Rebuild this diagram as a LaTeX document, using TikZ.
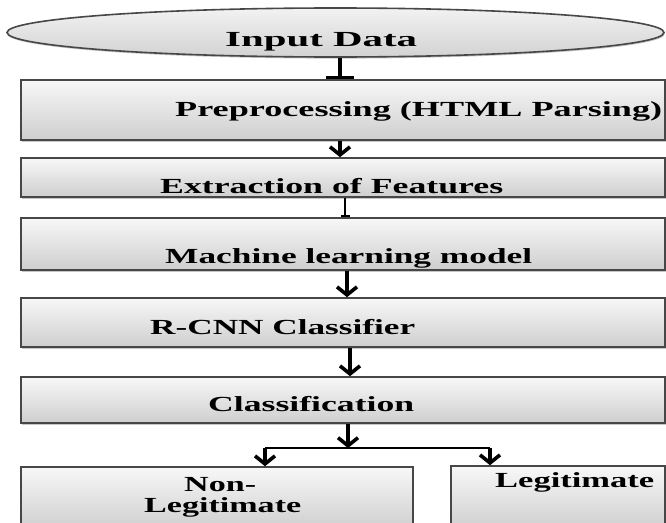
\documentclass[tikz,border=0pt]{standalone}
\usepackage{fontspec}
\setmainfont{Liberation Serif}
\usepackage{graphicx}
\usetikzlibrary{arrows.meta,shapes.geometric,shadows}
\begin{document}
\begin{tikzpicture}[x=1pt,y=-1pt,
  box/.style={draw=black!72, line width=1.6pt, top color=gray!6, bottom color=gray!38, inner sep=0pt,
    drop shadow={shadow xshift=0.8pt, shadow yshift=-1.6pt, fill=gray!55, opacity=0.8}},
  lbl/.style={inner sep=0pt, anchor=base west, font=\fontsize{21.5}{24}\selectfont\bfseries},
  conn/.style={draw=black, line width=3.8pt},
  thin/.style={draw=black, line width=2pt},
  tip/.style={-{Straight Barb[length=8pt,width=20pt,line width=3.6pt]}},
  bar/.style={-{Bar[width=28pt,line width=3.4pt]}},
  smallbar/.style={-{Bar[width=9pt,line width=2.4pt]}},
]
\useasboundingbox (0,0) rectangle (666,522);

% shapes
\node[box, ellipse, top color=gray!10, bottom color=gray!35, minimum width=657pt, minimum height=49pt] (ell) at (335.5,32.5) {};
\node[box, minimum width=644pt, minimum height=60pt] (pre) at (343,110) {};
\node[box, minimum width=644pt, minimum height=39pt] (ext) at (343,177.5) {};
\node[box, minimum width=644pt, minimum height=52pt] (ml) at (343,244) {};
\node[box, minimum width=644pt, minimum height=49pt] (rcnn) at (343,322.5) {};
\node[box, minimum width=644pt, minimum height=46pt] (cls) at (343,400) {};
\node[box, minimum width=392pt, minimum height=63pt] (nl) at (217,498.5) {};
\node[box, minimum width=214pt, minimum height=64pt] (lg) at (558,498) {};

% texts
\node[lbl] (tin) at (225,46) {\resizebox{192pt}{\height}{Input Data}};
\node[lbl] (tpre) at (175,116) {\resizebox{487pt}{\height}{Preprocessing (HTML Parsing)}};
\node[lbl] (text) at (160,193.5) {\resizebox{343pt}{\height}{Extraction of Features}};
\node[lbl] (tml) at (165,263) {\resizebox{367pt}{\height}{Machine learning model}};
\node[lbl] (trc) at (150,334) {\resizebox{265pt}{\height}{R-CNN Classifier}};
\node[lbl] (tcl) at (208,411) {\resizebox{206pt}{\height}{Classification}};
\node[lbl] (tnl1) at (184,491) {\resizebox{72pt}{\height}{Non-}};
\node[lbl] (tnl2) at (144,512) {\resizebox{157pt}{\height}{Legitimate}};
\node[lbl] (tlg) at (495,487) {\resizebox{159pt}{\height}{Legitimate}};

% connectors
\coordinate (j) at (348,448);
\coordinate (jl) at (265,448);
\coordinate (jr) at (490,448);

\draw[conn,bar] ([xshift=4.5pt]ell.south) -- ([xshift=-3pt]pre.north);
\draw[conn,tip] ([xshift=-3pt]pre.south) -- ([xshift=-3pt]ext.north);
\draw[thin,smallbar] ([xshift=2pt]ext.south) -- ([xshift=2pt]ml.north);
\draw[conn,tip] ([xshift=4pt]ml.south) -- ([xshift=4pt]rcnn.north);
\draw[conn,tip] ([xshift=7pt]rcnn.south) -- ([xshift=7pt]cls.north);
\draw[conn,tip] (cls.south -| j) -- (j);
\draw[thin,line width=2.4pt] (jl) -- (jr);
\draw[conn,tip,line width=3.4pt] (jl) -- (jl |- nl.north);
\draw[conn,tip,line width=3.4pt] (jr) -- (jr |- lg.north);
\end{tikzpicture}
\end{document}
